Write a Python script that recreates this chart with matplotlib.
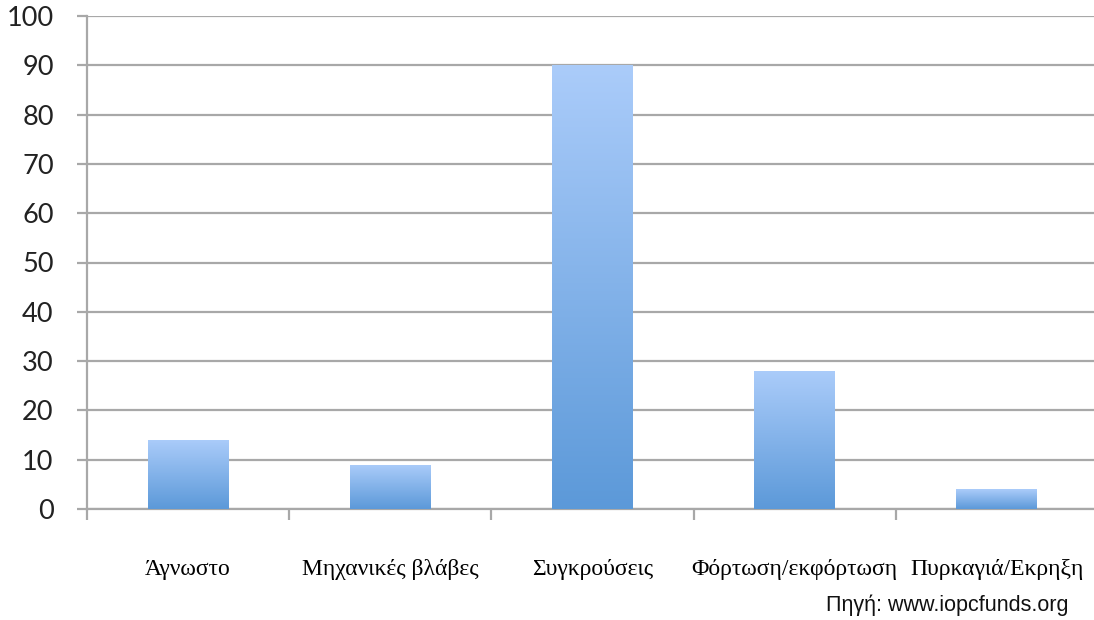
import numpy as np
import matplotlib.pyplot as plt

# Αιτίες πετρελαιοκηλίδων (%)
aities = ['Άγνωστο', 'Μηχανικές βλάβες', 'Συγκρούσεις', 'Φόρτωση/εκφόρτωση', 'Πυρκαγιά/Εκρηξη']
pososta = [14, 9, 90, 28, 4]
y_ticks = list(range(0, 101, 10))

grid_col = '#a8a8a8'

fig = plt.figure(figsize=(10.94, 6.2), dpi=100)
ax = fig.add_axes([87 / 1094, 1 - 509 / 620, 1011 / 1094, 493 / 620])

x = np.arange(len(aities))
bars = ax.bar(x, pososta, width=0.4, color='none', edgecolor='none', zorder=3)

# Κάθετη διαβάθμιση χρώματος σε κάθε στήλη
top = np.array([0.67, 0.80, 0.98])
bottom = np.array([0.36, 0.60, 0.85])
grad = np.linspace(0, 1, 256)[:, None, None]
img = bottom + (top - bottom) * grad
for b in bars:
    x0, y0 = b.get_x(), b.get_y()
    w, h = b.get_width(), b.get_height()
    im = ax.imshow(img, extent=[x0, x0 + w, y0, y0 + h], origin='lower',
                   aspect='auto', zorder=3, interpolation='bilinear')
    im.set_clip_path(b)

ax.set_xlim(-0.5, len(aities) - 0.5)
ax.set_ylim(0, 100)
ax.set_yticks(y_ticks)
ax.set_yticklabels([str(t) for t in y_ticks], family=['Lato', 'DejaVu Sans'],
                   fontsize=19.5, color='#222222')
ax.grid(axis='y', color=grid_col, linewidth=1.6, zorder=1)

# Υποδιαιρέσεις άξονα x στα όρια των κατηγοριών
ax.set_xticks(np.arange(len(aities) + 1) - 0.5)
ax.set_xticklabels([])
ax.set_xticks(x, minor=True)
ax.set_xticklabels(aities, minor=True, family=['Liberation Serif', 'DejaVu Serif'],
                   fontsize=17)
ax.tick_params(axis='x', which='major', length=8, width=1.6, color=grid_col)
ax.tick_params(axis='x', which='minor', length=0, pad=36)
ax.tick_params(axis='y', length=7, width=1.6, color=grid_col, pad=17)

for s in ['top', 'right']:
    ax.spines[s].set_visible(False)
ax.spines['left'].set_color(grid_col)
ax.spines['left'].set_linewidth(1.6)
ax.spines['bottom'].set_color(grid_col)
ax.spines['bottom'].set_linewidth(1.6)

fig.text(1068 / 1094, 1 - 605 / 620, 'Πηγή: www.iopcfunds.org', ha='right', va='center',
         family=['Liberation Sans', 'DejaVu Sans'], fontsize=15.5, color='#111111')

fig.savefig('out.png', dpi=100)
